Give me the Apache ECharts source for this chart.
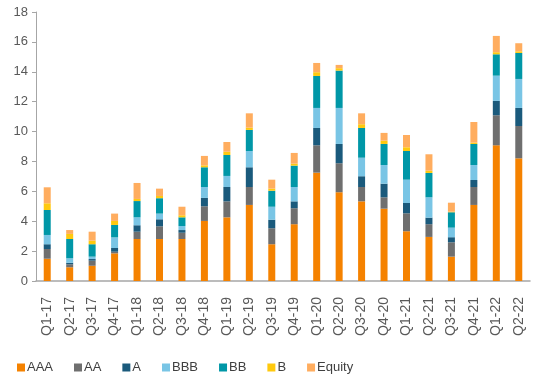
<!DOCTYPE html>
<html><head><meta charset="utf-8">
<script src="https://cdn.jsdelivr.net/npm/echarts@6/dist/echarts.min.js"></script>
<style>html,body{margin:0;padding:0;background:#fff}#c{width:539px;height:379px}</style>
</head><body><div id="c"></div>
<script>
const categories = ["Q1-17","Q2-17","Q3-17","Q4-17","Q1-18","Q2-18","Q3-18","Q4-18","Q1-19","Q2-19","Q3-19","Q4-19","Q1-20","Q2-20","Q3-20","Q4-20","Q1-21","Q2-21","Q3-21","Q4-21","Q1-22","Q2-22"];
const AAA    = [1.49,0.92,1.02,1.85,2.81,2.81,2.81,4.02,4.26,5.09,2.46,3.80,7.25,5.94,5.33,4.84,3.33,2.95,1.63,5.09,9.08,8.21];
const AA     = [0.65,0.20,0.34,0.11,0.49,0.85,0.42,0.98,1.07,1.20,1.07,1.07,1.83,1.94,0.96,0.76,1.20,0.85,0.96,1.20,2.01,2.16];
const A      = [0.32,0.10,0.11,0.25,0.43,0.47,0.18,0.56,0.96,1.32,0.57,0.46,1.16,1.29,0.72,0.91,0.69,0.44,0.34,0.47,0.96,1.21];
const BBB    = [0.62,0.30,0.16,0.71,0.53,0.38,0.27,0.73,0.74,1.09,0.87,0.96,1.34,2.41,1.24,1.25,1.56,1.36,0.64,1.00,1.69,1.94];
const BB     = [1.67,1.29,0.83,0.83,1.09,1.03,0.58,1.32,1.40,1.41,1.07,1.43,2.14,2.50,1.99,1.41,1.92,1.63,1.03,1.41,1.43,1.74];
const B      = [0.45,0.34,0.24,0.27,0.14,0.15,0.14,0.13,0.22,0.15,0.14,0.13,0.25,0.16,0.25,0.22,0.25,0.15,0.04,0.09,0.14,0.11];
const Equity = [1.07,0.26,0.60,0.49,1.07,0.49,0.57,0.63,0.65,0.96,0.60,0.72,0.62,0.22,0.73,0.52,0.82,1.10,0.60,1.38,1.09,0.54];
const yTicks = [0,2,4,6,8,10,12,14,16,18];

const seriesDefs = [
  ["AAA", AAA, "#F58200"],
  ["AA", AA, "#6F6F6F"],
  ["A", A, "#1A5A7C"],
  ["BBB", BBB, "#79C5E5"],
  ["BB", BB, "#0097A7"],
  ["B", B, "#FFC90E"],
  ["Equity", Equity, "#FFAD5F"]
];

const chart = echarts.init(document.getElementById('c'), null, {renderer:'canvas'});
chart.setOption({
  animation:false,
  textStyle:{fontFamily:'Liberation Sans, Arial, sans-serif'},
  grid:{left:36,right:9,top:12,bottom:98},
  legend:{
    left:12, top:356, itemWidth:8, itemHeight:8, itemGap:21,
    icon:'rect',
    textStyle:{color:'#404040',fontSize:13,padding:[0,0,0,-3]},
    data:seriesDefs.map(d=>d[0])
  },
  xAxis:{
    type:'category', data:categories,
    axisLine:{lineStyle:{color:'#A6A6A6',width:1.5}},
    axisTick:{show:false},
    axisLabel:{rotate:90,color:'#595959',fontSize:14,margin:16,interval:0}
  },
  yAxis:{
    type:'value', min:yTicks[0], max:yTicks[yTicks.length-1], interval:2,
    axisLine:{show:true,lineStyle:{color:'#A6A6A6'}},
    axisTick:{show:true,inside:false,length:4,lineStyle:{color:'#A6A6A6'}},
    splitLine:{show:false},
    axisLabel:{color:'#595959',fontSize:13,margin:8}
  },
  series: seriesDefs.map(d=>({
    name:d[0], type:'bar', stack:'total', data:d[1], barWidth:7,
    itemStyle:{color:d[2]}
  }))
});
</script></body></html>
